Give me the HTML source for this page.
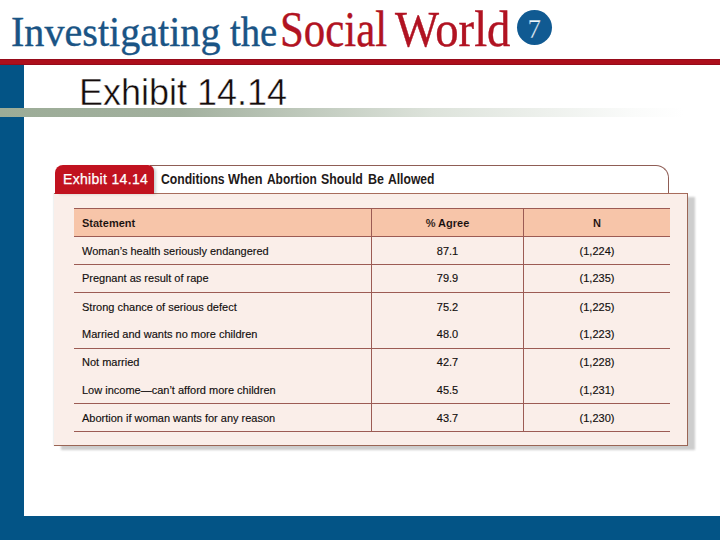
<!DOCTYPE html>
<html><head><meta charset="utf-8">
<style>
*{margin:0;padding:0;box-sizing:border-box}
html,body{width:720px;height:540px;overflow:hidden;background:#fff;position:relative}
.a{position:absolute;white-space:nowrap;line-height:1}
.serif{font-family:"Liberation Serif",serif}
.sans{font-family:"Liberation Sans",sans-serif}
.sx{transform-origin:0 0}
#t1a{left:11px;top:10px;-webkit-text-stroke:0.4px #1a5485;font-size:43px;color:#1a5485;transform:scaleX(0.933)}
#t1b{left:230px;top:10px;-webkit-text-stroke:0.4px #1a5485;font-size:43px;color:#1a5485;transform:scaleX(0.9)}
#t2a{left:280px;top:4px;-webkit-text-stroke:0.4px #b11322;font-size:50px;color:#b11322;transform:scaleX(0.857)}
#t2b{left:395px;top:4px;-webkit-text-stroke:0.4px #b11322;font-size:50px;color:#b11322;transform:scaleX(0.933)}
#circ{left:517px;top:10px;width:35px;height:35px;border-radius:50%;background:#105a92}
#seven{left:527.5px;top:16px;font-size:27px;color:#eef6fc;-webkit-text-stroke:0.3px #105a92}
#redline{left:0;top:59px;width:720px;height:6px;background:#ad0f1c;border-top:1px solid #960b1a;border-bottom:1px solid #960b1a}
#lbar{left:0;top:65px;width:24px;height:475px;background:#035486}
#bbar{left:0;top:516px;width:720px;height:24px;background:#035486}
#gline{left:0;top:108px;width:720px;height:9px;background:linear-gradient(to right,#9cac97 0%,#a2b09e 25%,#dde3db 60%,#fafbfa 88%,#fff 95%)}
#h1{left:79px;top:75px;font-size:36px;color:#140c0b;-webkit-text-stroke:0.45px #fff}

#shadow{left:54px;top:193px;width:634px;height:253px;box-shadow:7px 4px 2px 0 rgba(40,40,40,0.23),-1px 0 1px 0 rgba(0,40,40,0.06)}
#panel{left:54px;top:193px;width:634px;height:253px;background:#faeee9;border-top:1px solid #a86c5c;border-right:1px solid #9a6555;border-bottom:1px solid #9a6555}
#frame{left:150px;top:165px;width:519px;height:28px;background:#fff;border-top:1px solid #8f5d55;border-right:1px solid #8f5d55;border-top-right-radius:13px}
#tab{left:55px;top:165px;width:99px;height:29px;background:#c1121f;border-radius:8px 6px 0 0;box-shadow:3px 1px 3px -1px rgba(0,40,40,0.22)}
#tabtxt{left:63px;top:172px;font-size:14px;color:#fff;letter-spacing:0.32px;-webkit-text-stroke:0.25px #fff}
.ttl{top:172px;font-size:14px;font-weight:bold;color:#1f1a19}

.hl{position:absolute;left:74px;width:596px;height:1px;background:#9c5b54}
.vl{position:absolute;top:208px;width:1px;height:224px;background:#9c5b54}
#hdbg{left:74px;top:208px;width:596px;height:28px;background:#f7c5a9}
.tx{position:absolute;white-space:nowrap;line-height:1;font-family:"Liberation Sans",sans-serif;font-size:11px;color:#120e0e;-webkit-text-stroke:0.15px #120e0e}
.b{font-weight:bold;color:#120e0d;-webkit-text-stroke:0.1px #f7c5a9}
.c2{left:372px;width:151px;text-align:center}
.c3{left:524px;width:146px;text-align:center}
.c1{left:82px}
</style></head><body>
<div class="a serif sx" id="t1a">Investigating</div>
<div class="a serif sx" id="t1b">the</div>
<div class="a serif sx" id="t2a">Social</div>
<div class="a serif sx" id="t2b">World</div>
<div class="a" id="circ"></div>
<div class="a serif" id="seven">7</div>
<div class="a" id="redline"></div>
<div class="a" id="lbar"></div>
<div class="a" id="bbar"></div>
<div class="a" id="gline"></div>
<div class="a sans" id="h1">Exhibit 14.14</div>

<div class="a" id="shadow"></div>
<div class="a" id="panel"></div>
<div class="a" id="frame"></div>
<div class="a" id="tab"></div>
<div class="a sans" id="tabtxt">Exhibit 14.14</div>
<div class="a sans sx ttl" style="left:160.8px;transform:scaleX(0.87)">Conditions</div><div class="a sans sx ttl" style="left:228.1px;transform:scaleX(0.908)">When</div><div class="a sans sx ttl" style="left:266.5px;transform:scaleX(0.853)">Abortion</div><div class="a sans sx ttl" style="left:321px;transform:scaleX(0.883)">Should</div><div class="a sans sx ttl" style="left:368px;transform:scaleX(0.89)">Be</div><div class="a sans sx ttl" style="left:388.3px;transform:scaleX(0.866)">Allowed</div>

<div class="a" id="hdbg"></div>
<div class="hl" style="top:208px"></div>
<div class="hl" style="top:236px"></div>
<div class="hl" style="top:264px"></div>
<div class="hl" style="top:292px"></div>
<div class="hl" style="top:348px"></div>
<div class="hl" style="top:403px"></div>
<div class="hl" style="top:431px"></div>
<div class="vl" style="left:371px"></div>
<div class="vl" style="left:523px"></div>

<div class="tx b c1" style="top:218px">Statement</div>
<div class="tx b c2" style="top:218px">% Agree</div>
<div class="tx b c3" style="top:218px">N</div>

<div class="tx c1" style="top:246px">Woman’s health seriously endangered</div>
<div class="tx c2" style="top:246px">87.1</div>
<div class="tx c3" style="top:246px">(1,224)</div>

<div class="tx c1" style="top:273px">Pregnant as result of rape</div>
<div class="tx c2" style="top:273px">79.9</div>
<div class="tx c3" style="top:273px">(1,235)</div>

<div class="tx c1" style="top:302px">Strong chance of serious defect</div>
<div class="tx c2" style="top:302px">75.2</div>
<div class="tx c3" style="top:302px">(1,225)</div>

<div class="tx c1" style="top:329px">Married and wants no more children</div>
<div class="tx c2" style="top:329px">48.0</div>
<div class="tx c3" style="top:329px">(1,223)</div>

<div class="tx c1" style="top:357px">Not married</div>
<div class="tx c2" style="top:357px">42.7</div>
<div class="tx c3" style="top:357px">(1,228)</div>

<div class="tx c1" style="top:385px">Low income—can’t afford more children</div>
<div class="tx c2" style="top:385px">45.5</div>
<div class="tx c3" style="top:385px">(1,231)</div>

<div class="tx c1" style="top:413px">Abortion if woman wants for any reason</div>
<div class="tx c2" style="top:413px">43.7</div>
<div class="tx c3" style="top:413px">(1,230)</div>
</body></html>
